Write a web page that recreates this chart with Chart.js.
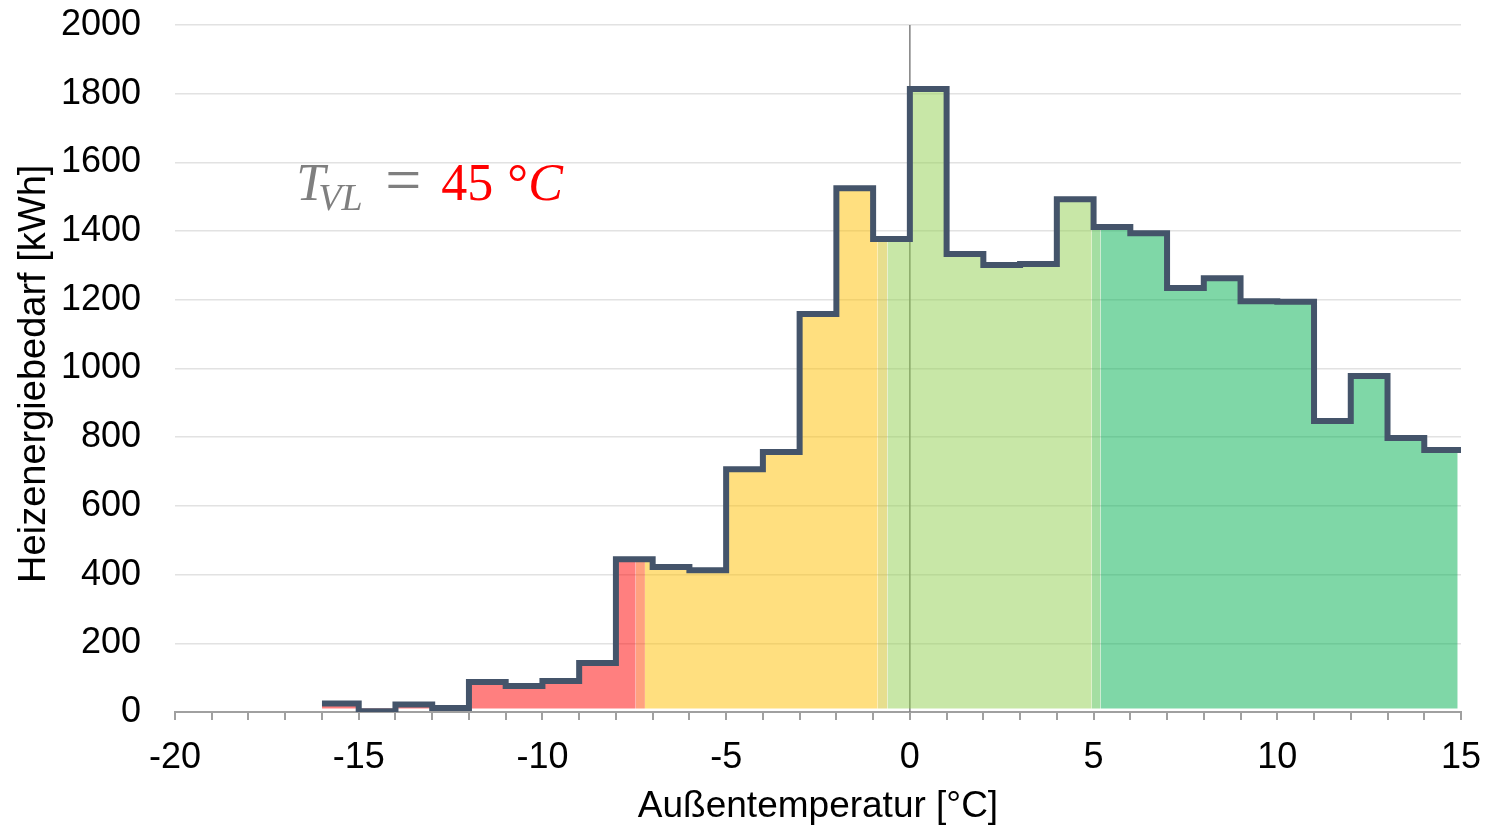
<!DOCTYPE html>
<html>
<head>
<meta charset="utf-8">
<script src="https://cdn.jsdelivr.net/npm/chart.js@4"></script>
<style>
  html, body { margin: 0; padding: 0; background: #fff; }
  #wrap { width: 1486px; height: 825px; }
</style>
</head>
<body>
<div id="wrap"><canvas id="c" width="1486" height="825"></canvas></div>
<script>
// Heating energy demand per 1 °C outdoor-temperature bin (bin start in °C)
const binStart = [-16, -15, -14, -13, -12, -11, -10, -9, -8, -7, -6, -5, -4, -3, -2, -1,
                  0, 1, 2, 3, 4, 5, 6, 7, 8, 9, 10, 11, 12, 13, 14];
const demand = [25, 2, 22, 12, 87, 76, 90, 143, 445, 422, 413, 707, 757, 1159, 1525, 1377,
                1814, 1333, 1301, 1304, 1493, 1412, 1394, 1234, 1263, 1196, 1194, 847, 978, 798, 763];
const binEnd = 15;

// Operating zones along the temperature axis (°C)
const zoneFrom = [-16, -7.46, -7.21, -0.875, -0.61, 4.95, 5.19];
const zoneTo   = [-7.46, -7.21, -0.875, -0.61, 4.95, 5.19, 14.91];
const zoneColor = [
  'rgba(255,0,0,0.5)',
  'rgba(255,70,0,0.5)',
  'rgba(255,192,0,0.5)',
  'rgba(205,190,30,0.5)',
  'rgba(146,208,80,0.5)',
  'rgba(73,190,70,0.5)',
  'rgba(0,176,80,0.5)'
];

// Axis ranges
const xMin = -20, xMax = 15, xLabelEvery = 5;
const yMin = 0, yMax = 2000, yStep = 200;

// Supply temperature annotation
const annotX = -16.7, annotY = 1490;

function valueAt(x) {
  let i = Math.floor(x) - binStart[0];
  i = Math.max(0, Math.min(demand.length - 1, i));
  return demand[i];
}

// Each point opens a bin; its value holds until the next point ('before' stepping)
const stepPoints = binStart.map((t, i) => ({ x: t, y: demand[i] }));
stepPoints.push({ x: binEnd, y: demand[demand.length - 1] });

function zonePoints(a, b) {
  const pts = [{ x: a, y: valueAt(a) }];
  for (let k = Math.floor(a) + 1; k < b; k++) pts.push({ x: k, y: valueAt(k) });
  pts.push({ x: b, y: valueAt(b - 1e-6) });
  return pts;
}

const zoneSets = zoneFrom.map((a, i) => ({
  data: zonePoints(a, zoneTo[i]),
  stepped: 'before',
  borderWidth: 0,
  pointRadius: 0,
  backgroundColor: zoneColor[i],
  fill: { value: 10 },
  order: 2
}));

const annotationPlugin = {
  id: 'tvl',
  afterDraw(chart) {
    const { ctx, scales } = chart;
    const x0 = scales.x.getPixelForValue(annotX);
    const y0 = scales.y.getPixelForValue(annotY);
    ctx.save();
    ctx.textBaseline = 'alphabetic';
    ctx.textAlign = 'left';
    ctx.fillStyle = '#7f7f7f';
    ctx.font = 'italic 52px "Liberation Serif"';
    ctx.fillText('T', x0, y0);
    ctx.font = 'italic 38px "Liberation Serif"';
    ctx.fillText('VL', x0 + 22, y0 + 10);
    ctx.font = '64px "Liberation Serif"';
    ctx.fillText('=', x0 + 89, y0 + 1);
    ctx.font = '52px "Liberation Serif"';
    ctx.fillStyle = '#ff0000';
    ctx.fillText('45', x0 + 145, y0);
    ctx.fillText('°', x0 + 211, y0);
    ctx.font = 'italic 52px "Liberation Serif"';
    ctx.fillText('C', x0 + 232, y0);
    ctx.restore();
  }
};

new Chart(document.getElementById('c'), {
  type: 'line',
  data: {
    datasets: [
      {
        data: stepPoints,
        stepped: 'before',
        borderColor: '#44546A',
        borderWidth: 6,
        borderJoinStyle: 'miter',
        borderCapStyle: 'butt',
        pointRadius: 0,
        fill: false,
        order: 0
      },
      ...zoneSets,
      {
        data: [{ x: 0, y: yMin }, { x: 0, y: yMax }],
        borderColor: '#808080',
        borderWidth: 1.5,
        pointRadius: 0,
        fill: false,
        order: 3
      }
    ]
  },
  options: {
    responsive: false,
    animation: false,
    layout: { padding: { top: 25, right: 25, left: 0, bottom: 0 } },
    plugins: { legend: { display: false }, tooltip: { enabled: false } },
    scales: {
      x: {
        type: 'linear',
        min: xMin,
        max: xMax,
        afterFit: s => { s.height = 113; },
        border: { display: true, color: '#a0a0a0', width: 2 },
        grid: { drawOnChartArea: false, drawTicks: true, tickLength: 8, color: '#a0a0a0', lineWidth: 2 },
        ticks: {
          stepSize: 1,
          autoSkip: false,
          maxRotation: 0,
          padding: 0,
          color: '#000',
          font: { family: '"Liberation Sans", Arial, sans-serif', size: 36, lineHeight: 2.09 },
          callback: v => (v % xLabelEvery === 0 ? String(v) : '')
        },
        title: {
          display: true,
          text: 'Außentemperatur [°C]',
          color: '#000',
          font: { family: '"Liberation Sans", Arial, sans-serif', size: 37, lineHeight: 1.0 },
          padding: { top: 0, bottom: 0 }
        }
      },
      y: {
        min: yMin,
        max: yMax,
        afterFit: s => { s.width = 175; },
        border: { display: false },
        grid: { color: '#e2e2e2', lineWidth: 1.5, drawTicks: true, tickLength: 34, tickColor: 'rgba(0,0,0,0)' },
        ticks: {
          stepSize: yStep,
          padding: 0,
          color: '#000',
          font: { family: '"Liberation Sans", Arial, sans-serif', size: 36 },
          callback: v => String(v)
        },
        title: {
          display: true,
          text: 'Heizenergiebedarf [kWh] ',
          color: '#000',
          font: { family: '"Liberation Sans", Arial, sans-serif', size: 38 },
          padding: { top: 12, bottom: 0 }
        }
      }
    }
  },
  plugins: [annotationPlugin]
});
</script>
</body>
</html>
